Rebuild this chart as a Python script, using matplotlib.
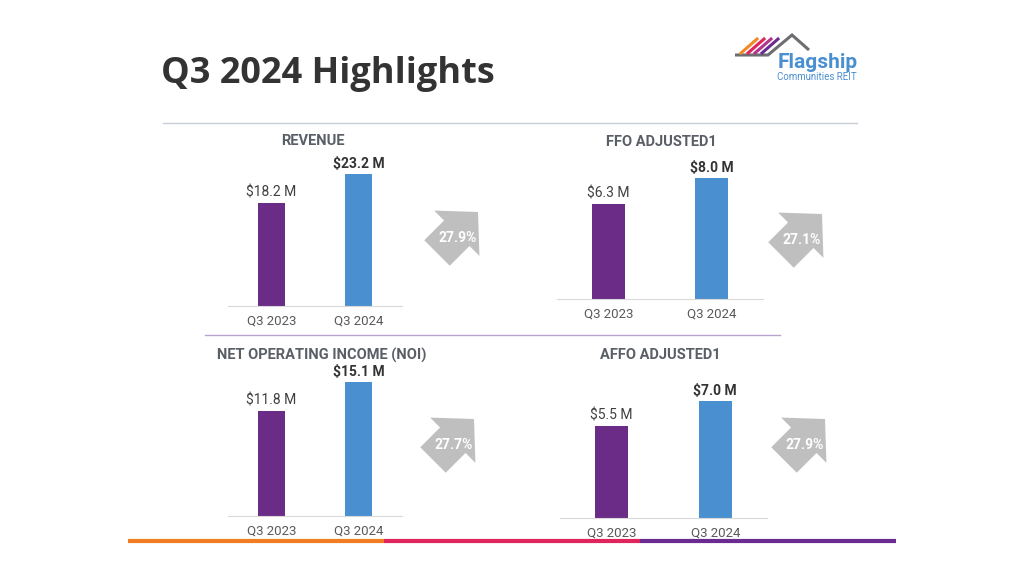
import matplotlib
matplotlib.use("Agg")
import matplotlib.pyplot as plt
from matplotlib.patches import FancyArrow

plt.rcParams['font.family'] = ['Roboto', 'DejaVu Sans']

# data
metrics = ["REVENUE", "FFO ADJUSTED1", "NET OPERATING INCOME (NOI)", "AFFO ADJUSTED1"]
periods = ["Q3 2023", "Q3 2024"]
q3_2023 = [18.2, 6.3, 11.8, 5.5]
q3_2024 = [23.2, 8.0, 15.1, 7.0]
growth = ["27.9%", "27.1%", "27.7%", "27.9%"]

# layout in pixels: left, right, baseline, ymax, title x, title y, arrow tip
panels = [
    (228, 402, 306, 26.4, 313, 141, (478, 212)),
    (557, 763, 299, 9.93, 661, 142, (822, 214)),
    (228, 402, 516, 16.9, 322, 355, (474, 419)),
    (560, 767, 518, 8.97, 660, 355, (825, 419)),
]

W, H = 1024, 576
purple = "#6a2c86"
blue = "#4a8fcf"

fig = plt.figure(figsize=(W / 100, H / 100), dpi=100)

# overlay in pixel coordinates for text, lines, arrows, logo
ov = fig.add_axes([0, 0, 1, 1])
ov.set_xlim(0, W)
ov.set_ylim(H, 0)
ov.axis("off")

ov.text(161, 74, "Q3 2024 Highlights", fontsize=26, fontweight="bold",
        family=["Open Sans", "DejaVu Sans"], color="#333333", ha="left", va="center")

# separators
ov.plot([163, 857], [123, 123], color="#c9ced6", lw=1)
ov.plot([205, 780], [335, 335], color="#b9a2cc", lw=1)
ov.plot([128, 384], [541, 541], color="#f07d22", lw=3, solid_capstyle="butt")
ov.plot([384, 640], [541, 541], color="#e0245e", lw=3, solid_capstyle="butt")
ov.plot([640, 896], [541, 541], color="#6b2c91", lw=3, solid_capstyle="butt")

# logo
ov.plot([735, 768, 792, 809], [55, 55, 35, 50], color="#6d6e71", lw=2.2,
        solid_capstyle="butt", solid_joinstyle="miter")
for i, c in enumerate(["#f08a24", "#e0245e", "#b5338a", "#6b2c91"]):
    x0 = 741 + i * 7
    ov.plot([x0, x0 + 16], [53, 39], color=c, lw=2.2)
ov.text(778, 62, "Flagship", fontsize=15, fontweight="bold", color="#4a8fd0",
        ha="left", va="center")
ov.text(777, 77, "Communities REIT", fontsize=7, color="#4a8fd0",
        ha="left", va="center")

for i, (l, r, base, ymax, tx, ty, tip) in enumerate(panels):
    ov.text(tx, ty, metrics[i], fontsize=10.5, fontweight="bold",
            color="#5a5e66", ha="center", va="center")

    # growth arrow
    L = 41
    ov.add_patch(FancyArrow(tip[0] - L, tip[1] + L, L, -L, width=36,
                            head_width=64, head_length=30,
                            length_includes_head=True, color="#bfbfbf", lw=0))
    ov.text(tip[0] - 20, tip[1] + 26, growth[i], fontsize=10, fontweight="bold",
            color="white", ha="center", va="center")

    hpx = 150
    ax = fig.add_axes([l / W, (H - base) / H, (r - l) / W, hpx / H])
    ax.patch.set_alpha(0)
    vals = [q3_2023[i], q3_2024[i]]
    ax.bar([0, 1], vals, width=0.32, color=[purple, blue])
    ax.set_xlim(-0.5, 1.5)
    ax.set_ylim(0, ymax)
    for s in ["top", "left", "right"]:
        ax.spines[s].set_visible(False)
    ax.spines["bottom"].set_color("#d9d9d9")
    ax.set_yticks([])
    ax.set_xticks([0, 1])
    ax.set_xticklabels(periods, fontsize=9.5, color="#595959")
    ax.tick_params(axis="x", length=0, pad=6)
    for j, v in enumerate(vals):
        ax.annotate(f"${v:.1f} M", (j, v), xytext=(0, 7.5), textcoords="offset points",
                    ha="center", va="center", fontsize=10,
                    fontweight="bold" if j == 1 else "normal",
                    color="#333333" if j == 1 else "#404040")

fig.savefig("out.png", dpi=100)
